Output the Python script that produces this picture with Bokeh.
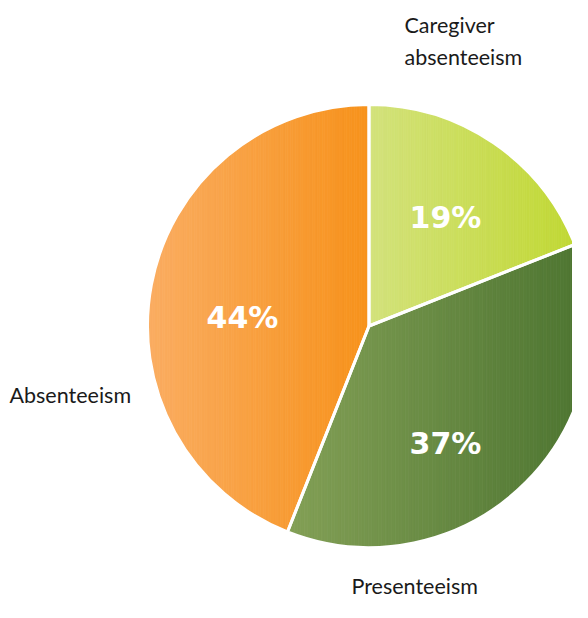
import numpy as np
from bokeh.plotting import figure
from bokeh.models import Range1d, ColumnDataSource
from bokeh.core.properties import value
from bokeh.embed import file_html
from bokeh.resources import INLINE

# ---- data ----
categories = ["Caregiver absenteeism", "Presenteeism", "Absenteeism"]
shares = [19, 37, 44]
pct_labels = ["19%", "37%", "44%"]
grad_left = ["#D3E27C", "#83A056", "#FAAD62"]
grad_right = ["#C1D834", "#4C7430", "#F7921B"]

# geometry (picture pixel units, y measured upward from picture bottom)
PAGE_H = 618
cx, cy, R = 369.5, PAGE_H - 326.5, 221.5

p = figure(width=572, height=602, output_backend="svg", toolbar_location=None,
           x_range=Range1d(1, 573), y_range=Range1d(PAGE_H - 603, PAGE_H - 1),
           min_border=0)
p.axis.visible = False
p.grid.visible = False
p.outline_line_color = None
p.background_fill_color = "white"

def hex2rgb(h):
    h = h.lstrip("#")
    return np.array([int(h[i:i + 2], 16) for i in (0, 2, 4)], dtype=float)

def rgb2hex(c):
    return "#%02x%02x%02x" % tuple(int(round(v)) for v in c)

def clip(poly, xv, keep_greater):
    out = []
    n = len(poly)
    for i in range(n):
        a = poly[i]
        b = poly[(i + 1) % n]
        ina = a[0] >= xv if keep_greater else a[0] <= xv
        inb = b[0] >= xv if keep_greater else b[0] <= xv
        if ina:
            out.append(a)
        if ina != inb:
            t = (xv - a[0]) / (b[0] - a[0])
            out.append((xv, a[1] + t * (b[1] - a[1])))
    return out

fracs = np.array(shares, dtype=float) / sum(shares)
ends = 90 - np.cumsum(fracs) * 360
starts = np.concatenate([[90], ends[:-1]])

xs_all, ys_all, cols = [], [], []
for s, e, cl, cr in zip(starts, ends, grad_left, grad_right):
    angs = np.radians(np.linspace(s, e, 200))
    poly = [(cx, cy)] + [(cx + R * np.cos(a), cy + R * np.sin(a)) for a in angs]
    px = [q[0] for q in poly]
    x0, x1 = min(px), max(px)
    n = 90
    edges = np.linspace(x0, x1, n + 1)
    c0, c1 = hex2rgb(cl), hex2rgb(cr)
    for i in range(n):
        sub = clip(poly, edges[i], True)
        if len(sub) < 3:
            continue
        sub = clip(sub, edges[i + 1], False)
        if len(sub) < 3:
            continue
        t = (i + 0.5) / n
        xs_all.append([q[0] for q in sub])
        ys_all.append([q[1] for q in sub])
        cols.append(rgb2hex(c0 + (c1 - c0) * t))

p.patches(xs="xs", ys="ys", fill_color="c", line_color="c", line_width=0.8,
          source=ColumnDataSource(dict(xs=xs_all, ys=ys_all, c=cols)))

# white separators
wsrc = ColumnDataSource(dict(s=np.radians(ends), e=np.radians(starts)))
p.wedge(x=cx, y=cy, radius=R, start_angle="s", end_angle="e", source=wsrc,
        fill_color=None, line_color="white", line_width=3)

# percentage labels
pct_x = [446, 446, 243]
pct_y = [PAGE_H - 218, PAGE_H - 444, PAGE_H - 318]
p.text(x=pct_x, y=pct_y, text=pct_labels, text_color="white",
       text_font=value("DejaVu Sans"), text_font_style="bold", text_font_size="30px",
       text_align="center", text_baseline="middle")

# category labels
lab_text = ["Caregiver", "absenteeism", "Absenteeism", "Presenteeism"]
lab_x = [405, 405, 10, 352]
lab_y = [PAGE_H - 25, PAGE_H - 57, PAGE_H - 395, PAGE_H - 586]
p.text(x=lab_x, y=lab_y, text=lab_text, text_color="#1a1a1a",
       text_font=value("Lato"), text_font_size="21.5px",
       text_align="left", text_baseline="middle")

open("out.html", "w").write(file_html(p, INLINE))
